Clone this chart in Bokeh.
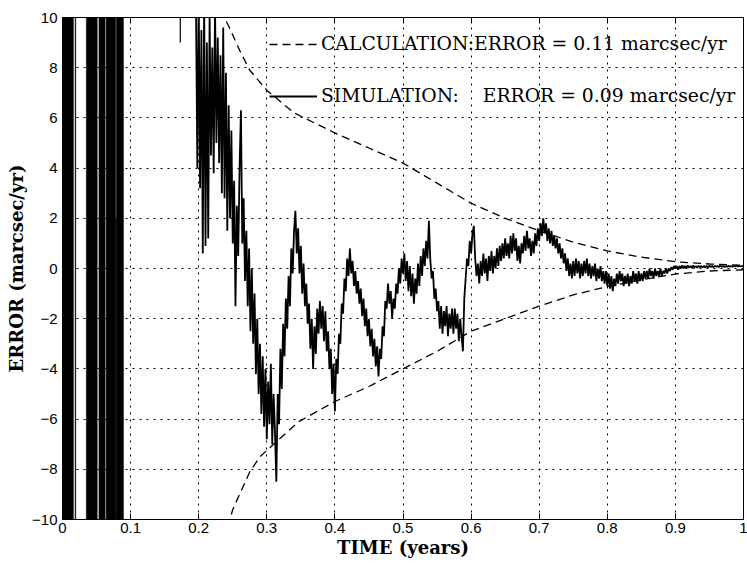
from bokeh.plotting import figure
from bokeh.models import LinearAxis, FixedTicker, Range1d, Legend, LegendItem
from bokeh.embed import file_html
from bokeh.resources import INLINE

# ---------------- data ----------------
x_ticks = [0, 0.1, 0.2, 0.3, 0.4, 0.5, 0.6, 0.7, 0.8, 0.9, 1]
y_ticks = [-10, -8, -6, -4, -2, 0, 2, 4, 6, 8, 10]

# early saturated oscillation (fills the full y range)
early_left = [0.000, 0.0185, 0.035, 0.0535, 0.064, 0.079, 0.078]
early_right = [0.016, 0.0195, 0.051, 0.0625, 0.078, 0.0895, 0.079]
early_bottom = [-11, -11, -11, -11, -11, -11, -11]
early_top = [11, 11, 11, 11, 11, 11, 2.0]

# isolated spike near t = 0.173
spike_t = [0.173, 0.173]
spike_v = [10.6, 9.0]

# simulation error, sampled every 0.002 yr from 0.196 yr
SIM_T0 = 0.196
SIM_DT = 0.002
sim_v = [
    10.5, 4.0, 11.0, 3.2, 9.5, 0.6, 10.8, 0.9, 9.0, 1.2, 10.2, 4.5, 8.8, 3.8, 10.5, 5.0, 9.2, 4.2, 8.5, 3.0, 9.6, 2.8, 7.8, 1.5, 6.5,
    2.0, 5.5, 1.0, 3.5, -1.5, 2.5, 0.5, 4.0, 6.3, 1.0, 2.8, -0.5, 1.5, -1.5, 0.8, -2.5, 0.0, -3.0, -1.0, -4.2, -2.0, -5.0, -3.0, -5.8, -3.5,
    -6.3, -4.0, -6.8, -4.5, -6.2, -3.8, -7.0, -5.0, -6.5, -8.5, -5.0, -6.2, -3.2, -4.8, -2.2, -3.5, -1.2, -2.4, -0.3, -1.5, 0.8, -0.2, 1.5, 2.3, 0.6,
    1.6, -0.2, 0.9, -1.0, 0.2, -1.5, -0.6, -2.2, -1.4, -3.2, -2.0, -4.0, -2.3, -3.4, -1.6, -2.6, -1.3, -2.4, -1.5, -2.9, -1.7, -3.3, -2.5, -4.0, -3.2,
    -5.0, -3.8, -5.7, -3.6, -4.2, -2.6, -3.0, -1.4, -1.8, -0.4, -0.9, 0.4, -0.3, 0.8, -0.2, 0.3, -0.7, -0.1, -1.0, -0.5, -1.4, -0.8, -1.9, -1.2, -2.3,
    -1.6, -2.7, -2.0, -3.1, -2.4, -3.5, -2.8, -3.9, -3.1, -4.3, -3.2, -3.6, -2.3, -2.7, -1.3, -1.6, -0.6, -1.4, -0.9, -2.0, -1.2, -1.6, -0.6, -1.0, 0.0,
    -0.6, 0.4, -0.2, 0.6, -0.5, 0.3, -0.9, 0.1, -1.1, -0.2, -1.4, -0.4, -1.0, 0.2, -0.7, 0.5, -0.3, 0.8, 0.1, 1.1, 0.4, 1.9, 0.4, -0.4, -0.1,
    -1.2, -0.8, -1.7, -1.3, -2.4, -1.5, -2.6, -1.7, -2.3, -1.5, -2.7, -1.8, -2.4, -1.6, -2.6, -1.6, -2.4, -1.8, -2.9, -2.0, -2.7, -3.3, -1.2, -0.4, 0.4,
    0.1, 1.1, 0.6, 1.4, 1.7, 0.4, -0.3, 0.2, -0.6, 0.3, -0.3, 0.6, -0.2, 0.4, -0.5, 0.5, -0.1, 0.7, -0.2, 0.5, 0.0, 0.8, 0.1, 0.9, 0.3,
    1.0, 0.4, 1.2, 0.5, 1.0, 0.4, 1.3, 0.6, 1.4, 0.7, 1.2, 0.3, 0.9, 0.2, 1.0, 0.6, 1.3, 0.7, 1.5, 0.8, 1.2, 0.5, 1.1, 0.6, 1.4,
    0.9, 1.6, 1.1, 1.8, 1.3, 2.0, 1.4, 1.8, 1.1, 1.6, 1.0, 1.5, 0.9, 1.3, 0.8, 1.2, 0.6, 1.0, 0.4, 0.8, 0.2, 0.6, -0.1, 0.4, -0.3,
    0.2, -0.4, 0.3, -0.3, 0.4, -0.2, 0.3, -0.4, 0.2, -0.3, 0.3, -0.2, 0.4, -0.3, 0.2, -0.4, 0.1, -0.3, 0.2, -0.5, 0.0, -0.4, 0.1, -0.5, -0.1,
    -0.6, -0.1, -0.7, -0.2, -0.8, -0.3, -0.9, -0.4, -0.7, -0.2, -0.6, -0.1, -0.5, -0.2, -0.7, -0.3, -0.6, -0.2, -0.7, -0.3, -0.6, -0.1, -0.5, -0.2, -0.6,
    -0.1, -0.5, -0.2, -0.5, -0.1, -0.4, -0.1, -0.4, 0.0, -0.3, -0.1, -0.4, 0.0, -0.3, -0.1, -0.3, 0.0, -0.3, -0.1, -0.2, 0.0, -0.2, 0.0, -0.1, 0.05,
    -0.05, 0.1, 0.0, 0.1, -0.05, 0.1, 0.0, 0.12, 0.0, 0.1, 0.02, 0.12, 0.03, 0.1, 0.02, 0.12, 0.04, 0.1, 0.03, 0.11, 0.05, 0.1, 0.04, 0.1, 0.05,
    0.1, 0.05, 0.11, 0.06, 0.1, 0.05, 0.11, 0.07, 0.1, 0.06, 0.11, 0.07, 0.1, 0.06, 0.1, 0.07, 0.11, 0.07, 0.1, 0.07, 0.1, 0.08, 0.11, 0.08, 0.1,
    0.08, 0.1, 0.09,
]
sim_t = [round(SIM_T0 + i * SIM_DT, 4) for i in range(len(sim_v))]

# calculated error bounds (dashed)
upper_t = [0.232, 0.245, 0.26, 0.275, 0.30, 0.34, 0.40, 0.45, 0.50, 0.55, 0.60, 0.65, 0.70, 0.75, 0.80, 0.85, 0.90, 0.95, 1.0]
upper_v = [10.3, 9.6, 8.7, 7.9, 7.1, 6.2, 5.4, 4.8, 4.2, 3.4, 2.6, 2.0, 1.5, 1.05, 0.7, 0.45, 0.27, 0.18, 0.13]
lower_t = [0.243, 0.25, 0.26, 0.275, 0.29, 0.31, 0.347, 0.40, 0.45, 0.50, 0.55, 0.60, 0.65, 0.70, 0.75, 0.80, 0.85, 0.90, 0.95, 1.0]
lower_v = [-10.3, -9.6, -9.0, -8.1, -7.5, -7.0, -6.1, -5.3, -4.7, -4.0, -3.3, -2.5, -2.0, -1.5, -1.05, -0.72, -0.45, -0.22, -0.1, -0.05]

calc_label = "CALCULATION:ERROR = 0.11 marcsec/yr"
sim_label = "SIMULATION:\u00a0\u00a0\u00a0\u00a0ERROR = 0.09 marcsec/yr"
x_title = "TIME (years)"
y_title = "ERROR (marcsec/yr)"

# ---------------- figure ----------------
SERIF = "DejaVu Serif"
SANS = "Liberation Sans"

p = figure(width=747, height=565, output_backend="svg", toolbar_location=None,
           x_range=Range1d(0, 1), y_range=Range1d(-10, 10),
           min_border_left=62, min_border_right=4, min_border_top=17, min_border_bottom=46,
           x_axis_label=x_title, y_axis_label=y_title)
p.background_fill_color = "white"
p.border_fill_color = "white"
p.outline_line_color = "black"
p.outline_line_width = 1

for ax, ticks in ((p.xaxis[0], x_ticks), (p.yaxis[0], y_ticks)):
    ax.ticker = FixedTicker(ticks=ticks)
    ax.major_tick_in = 6
    ax.major_tick_out = 0
    ax.minor_tick_line_color = None
    ax.axis_line_color = "black"
    ax.major_tick_line_color = "black"
    ax.major_label_text_font = SANS
    ax.major_label_text_font_size = "15px"
    ax.major_label_text_color = "black"
    ax.axis_label_text_font = SERIF
    ax.axis_label_text_font_style = "bold"
    ax.axis_label_text_font_size = "18px"
    ax.axis_label_text_color = "black"
p.xaxis[0].major_label_overrides = {0: "0", 1: "1"}
p.xaxis[0].major_label_standoff = 3
p.xaxis[0].axis_label_standoff = 1
p.yaxis[0].major_label_standoff = 5
p.yaxis[0].axis_label_standoff = 2

top_axis = LinearAxis(ticker=FixedTicker(ticks=x_ticks), major_tick_in=6, major_tick_out=0,
                      minor_tick_line_color=None, axis_line_color="black",
                      major_label_overrides={t: "" for t in x_ticks},
                      major_label_text_font_size="1px", major_label_standoff=0)
p.add_layout(top_axis, "above")

for g, ticks in ((p.xgrid[0], x_ticks), (p.ygrid[0], y_ticks)):
    g.ticker = FixedTicker(ticks=ticks)
    g.grid_line_color = "black"
    g.grid_line_dash = "2 5"
    g.grid_line_width = 1
    g.grid_line_alpha = 1.0

# marks
p.quad(left=early_left, right=early_right, bottom=early_bottom, top=early_top,
       fill_color="black", line_color="black", line_width=0.5)
p.line(spike_t, spike_v, line_color="black", line_width=1.2)
sim_r = p.line(sim_t, sim_v, line_color="black", line_width=1.8)
up_r = p.line(upper_t, upper_v, line_color="black", line_width=1.3, line_dash="8 5")
p.line(lower_t, lower_v, line_color="black", line_width=1.3, line_dash="8 5")

legend = Legend(items=[LegendItem(label=calc_label, renderers=[up_r]),
                       LegendItem(label=sim_label, renderers=[sim_r])],
                location=(207, 413), orientation="vertical",
                padding=0, margin=0, spacing=31, glyph_width=48, glyph_height=20,
                label_height=20, label_standoff=4,
                label_text_font=SERIF, label_text_font_size="18.8px", label_text_color="black",
                border_line_color=None, background_fill_alpha=0)
p.add_layout(legend, "center")

open("out.html", "w").write(file_html(p, INLINE))
